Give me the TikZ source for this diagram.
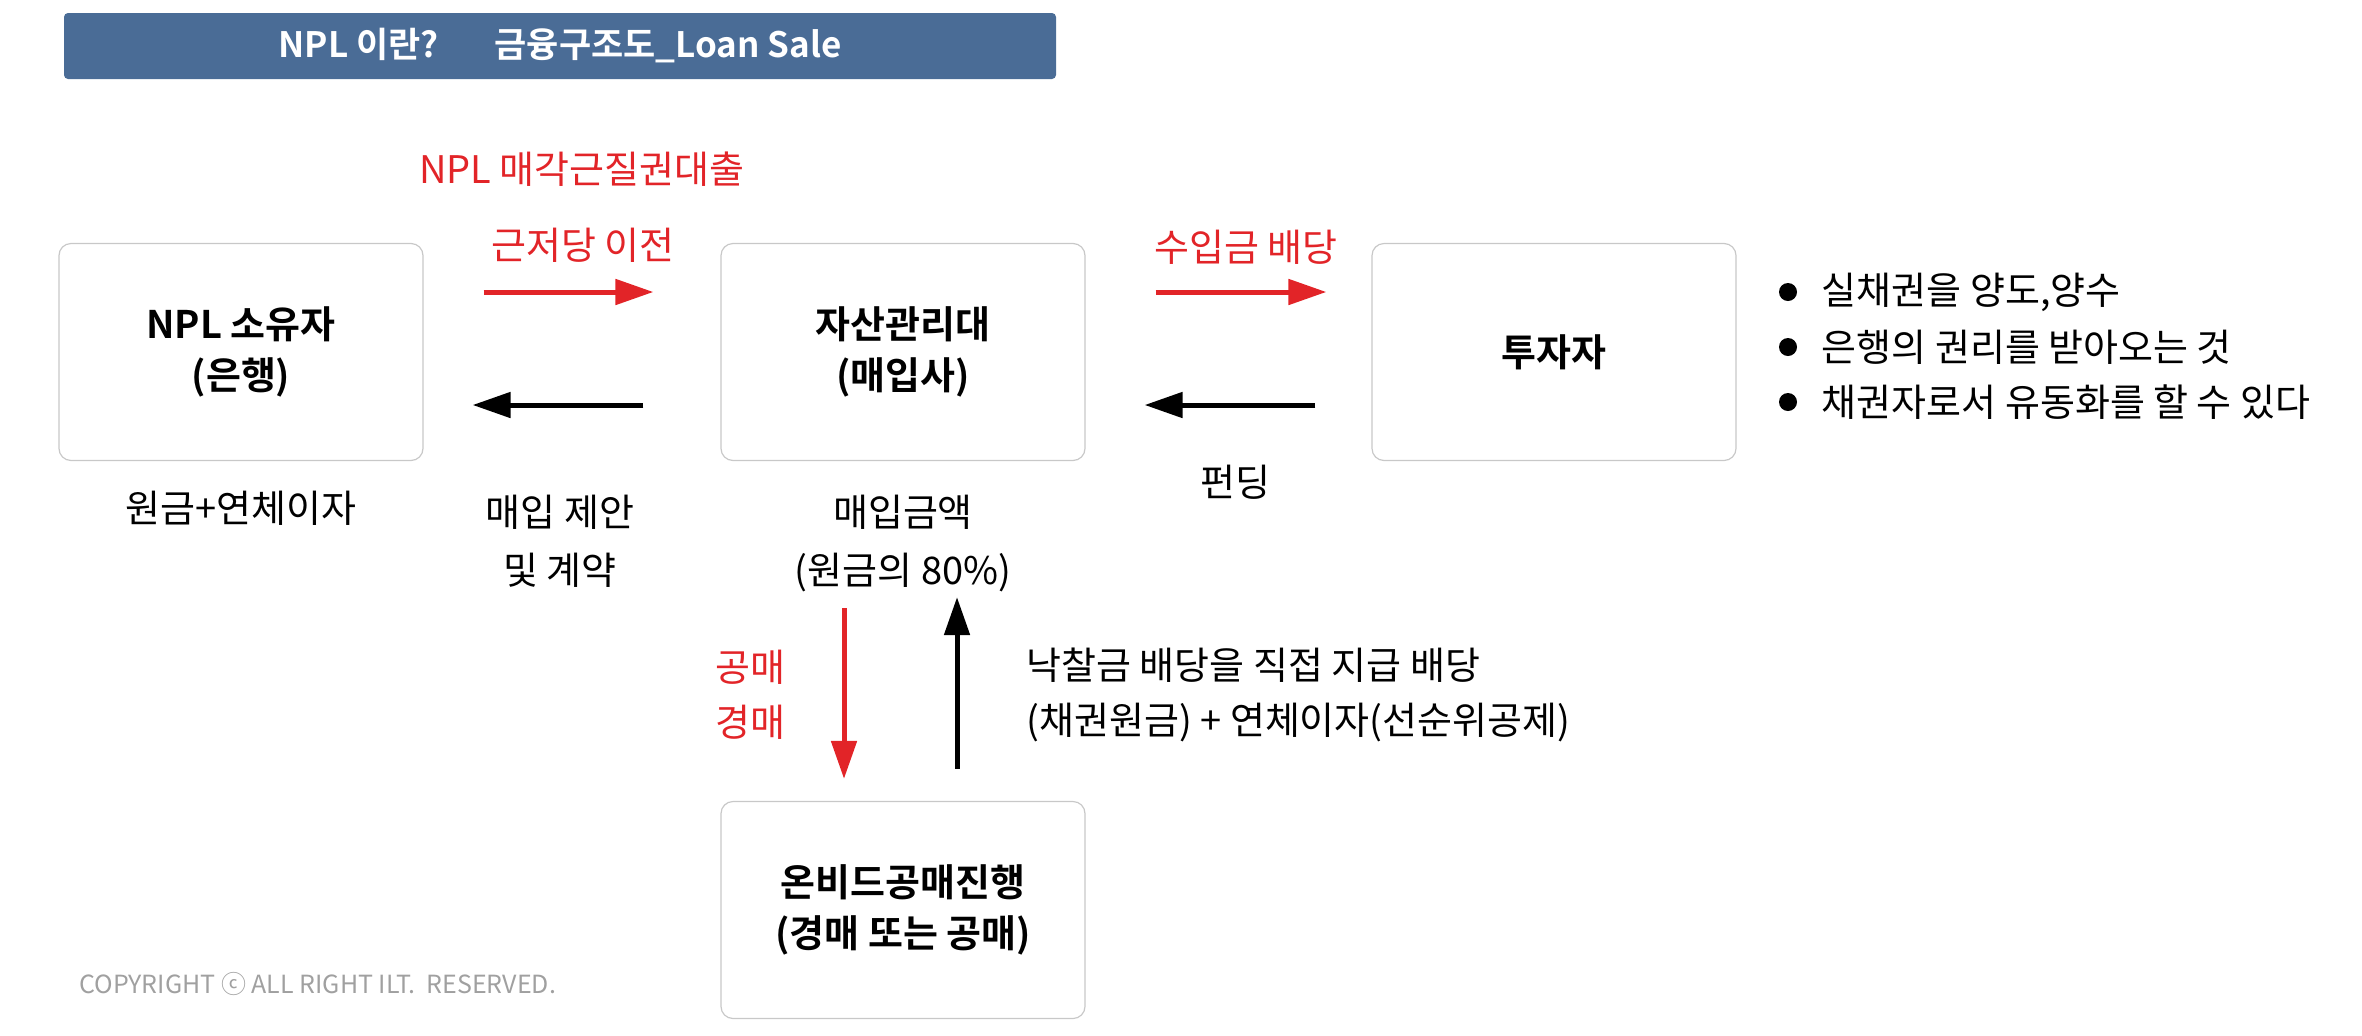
\documentclass[tikz,border=0pt]{standalone}
\usepackage{fontspec}
\setmainfont{Noto Sans CJK KR}[BoldFont={Noto Sans CJK KR Bold}]
\usepackage{tikz}
\usetikzlibrary{shapes,arrows.meta,positioning}
\definecolor{nplred}{RGB}{226,36,40}
\definecolor{barblue}{RGB}{74,108,150}
\definecolor{boxgray}{RGB}{200,200,200}
\definecolor{copygray}{RGB}{160,160,160}

\begin{document}
\begin{tikzpicture}[x=0.5pt, y=-0.5pt,
    party/.style={rectangle, draw=boxgray, line width=0.6pt, rounded corners=6pt, minimum width=182pt, minimum height=108.5pt, align=center, font=\fontsize{19pt}{25.5pt}\selectfont\bfseries},
    note/.style={align=center, inner sep=0pt, font=\fontsize{19pt}{29pt}\selectfont},
    rednote/.style={note, text=nplred},
    flow/.style={-{Triangle[length=19pt, width=12.5pt]}, line width=2.5pt}]
    \useasboundingbox (0,0) rectangle (2362,1035);

    \node (title) [rectangle, fill=barblue, rounded corners=2pt, minimum width=496pt, minimum height=33pt, text=white, font=\fontsize{17.5pt}{20pt}\selectfont\bfseries] at (560,46) {NPL 이란?\hspace{28pt}금융구조도\_Loan Sale};

    \node (owner) [party] at (241,352) {NPL 소유자\\(은행)};
    \node (amc) [party, right of=owner, node distance=331pt] {자산관리대\\(매입사)};
    \node (investor) [party, right of=amc, node distance=325.5pt] {투자자};
    \node (auction) [party, below of=amc, node distance=279pt] {온비드공매진행\\(경매 또는 공매)};

    \node (loan) [rednote] at (582,169) {NPL 매각근질권대출};
    \node (mortgage) [rednote] at (583,245) {근저당 이전};
    \node (dividend) [rednote] at (1246,247) {수입금 배당};
    \node (principal) [note] at (241,508) {원금+연체이자};
    \node (offer) [note] at (560,541) {매입 제안\\및 계약};
    \node (price) [note] at (903,543) {매입금액\\(원금의 80\%)};
    \node (funding) [note] at (1235,482) {펀딩};
    \node (sale) [rednote, font=\fontsize{19pt}{27.5pt}\selectfont] at (750,695) {공매\\경매};
    \node (payout) [note, align=left, anchor=west, font=\fontsize{19pt}{27.5pt}\selectfont] at (1026,695) {낙찰금 배당을 직접 지급 배당\\(채권원금) + 연체이자(선순위공제)};

    % bullet list next to the investor
    \foreach \txt [count=\i] in {{실채권을 양도,양수}, {은행의 권리를 받아오는 것}, {채권자로서 유동화를 할 수 있다}} {
        \node (dot\i) [circle, fill=black, inner sep=0pt, minimum size=9pt] at (1788,{237+55*\i}) {};
        \node (fact\i) [note, right=12pt of dot\i] {\txt};
    }

    \node (copyright) [anchor=west, inner sep=0pt, text=copygray, font=\fontsize{12.5pt}{15pt}\selectfont] at (79,984) {COPYRIGHT ⓒ ALL RIGHT ILT.\ \ RESERVED.};

    \draw[flow, nplred, shorten <=30pt, shorten >=33.5pt] ([yshift=30pt]owner.east) -- ([yshift=30pt]amc.west);
    \draw[flow, shorten <=38.5pt, shorten >=24.5pt] ([yshift=-26.5pt]amc.west) -- ([yshift=-26.5pt]owner.east);
    \draw[flow, nplred, shorten <=35pt, shorten >=22.5pt] ([yshift=30pt]amc.east) -- ([yshift=30pt]investor.west);
    \draw[flow, shorten <=28pt, shorten >=29.5pt] ([yshift=-26.5pt]investor.west) -- ([yshift=-26.5pt]amc.east);
    \draw[flow, nplred, shorten <=73.5pt, shorten >=11pt] ([xshift=-29.5pt]amc.south) -- ([xshift=-29.5pt]auction.north);
    \draw[flow, shorten <=16pt, shorten >=68pt] ([xshift=27pt]auction.north) -- ([xshift=27pt]amc.south);
\end{tikzpicture}
\end{document}
